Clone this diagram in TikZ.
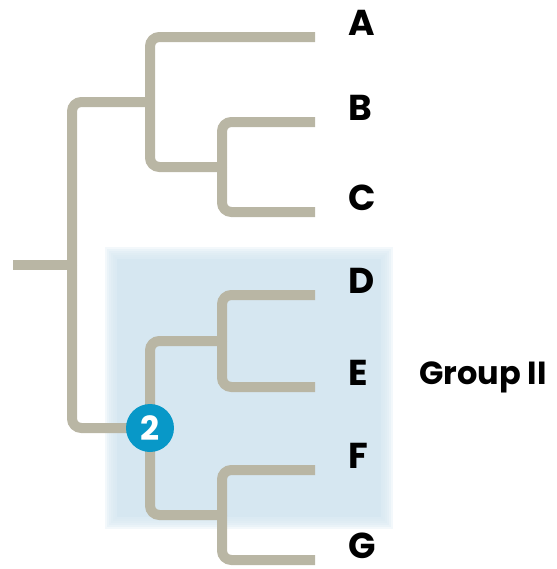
\documentclass[tikz,border=0pt]{standalone}
\usepackage{fontspec}
\setmainfont{Poppins}
\usepackage{xcolor}
\usepackage{tikz}

\definecolor{branchgray}{RGB}{185,182,164}
\definecolor{groupblue}{RGB}{214,231,241}
\definecolor{nodeblue}{RGB}{8,152,200}

\begin{document}
\begin{tikzpicture}[x=0.75pt, y=-0.75pt,
    branch/.style={draw=branchgray, line width=7.5pt, rounded corners=7pt},
    taxon/.style={anchor=base west, inner sep=0pt, font=\fontsize{27}{30}\selectfont\bfseries},
    marker/.style={circle, fill=nodeblue, minimum size=36pt, inner sep=0pt, text=white, font=\fontsize{25}{27}\selectfont\bfseries}]
\useasboundingbox (0,0) rectangle (557,569);

% Shaded clade box, soft edges
\fill[groupblue] (117,259) rectangle (381,517);
\foreach \i in {1,...,6} {
    \fill[groupblue, opacity=0.3] (117-2*\i, 259-2*\i) rectangle (381+2*\i, 517+2*\i);
}

% Tips and taxon labels
\foreach \t/\y in {A/37, B/122, C/212, D/295, E/387, F/470, G/560} {
    \coordinate (t\t) at (315,\y);
    \node[taxon] (\t) at (348,\y-2) {\t};
}

% Internal nodes
\coordinate (stub) at (13,265);
\coordinate (root) at (72,265);
\coordinate (nABC) at (150,102);
\coordinate (nBC) at (222,167);
\coordinate (n2) at (150,428);
\coordinate (nDE) at (222,341);
\coordinate (nFG) at (222,515);

% Branches
\draw[branch] (stub) -- (root);
\draw[branch] (root) |- (nABC);
\draw[branch] (root) |- (n2);
\draw[branch] (nABC) |- (tA);
\draw[branch] (nABC) |- (nBC);
\draw[branch] (nBC) |- (tB);
\draw[branch] (nBC) |- (tC);
\draw[branch] (n2) |- (nDE);
\draw[branch] (n2) |- (nFG);
\draw[branch] (nDE) |- (tD);
\draw[branch] (nDE) |- (tE);
\draw[branch] (nFG) |- (tF);
\draw[branch] (nFG) |- (tG);

\node[marker] (two) at (n2) {2};
\node[taxon, font=\fontsize{24}{27}\selectfont\bfseries] (grp) at (419,384) {Group II};
\end{tikzpicture}
\end{document}
